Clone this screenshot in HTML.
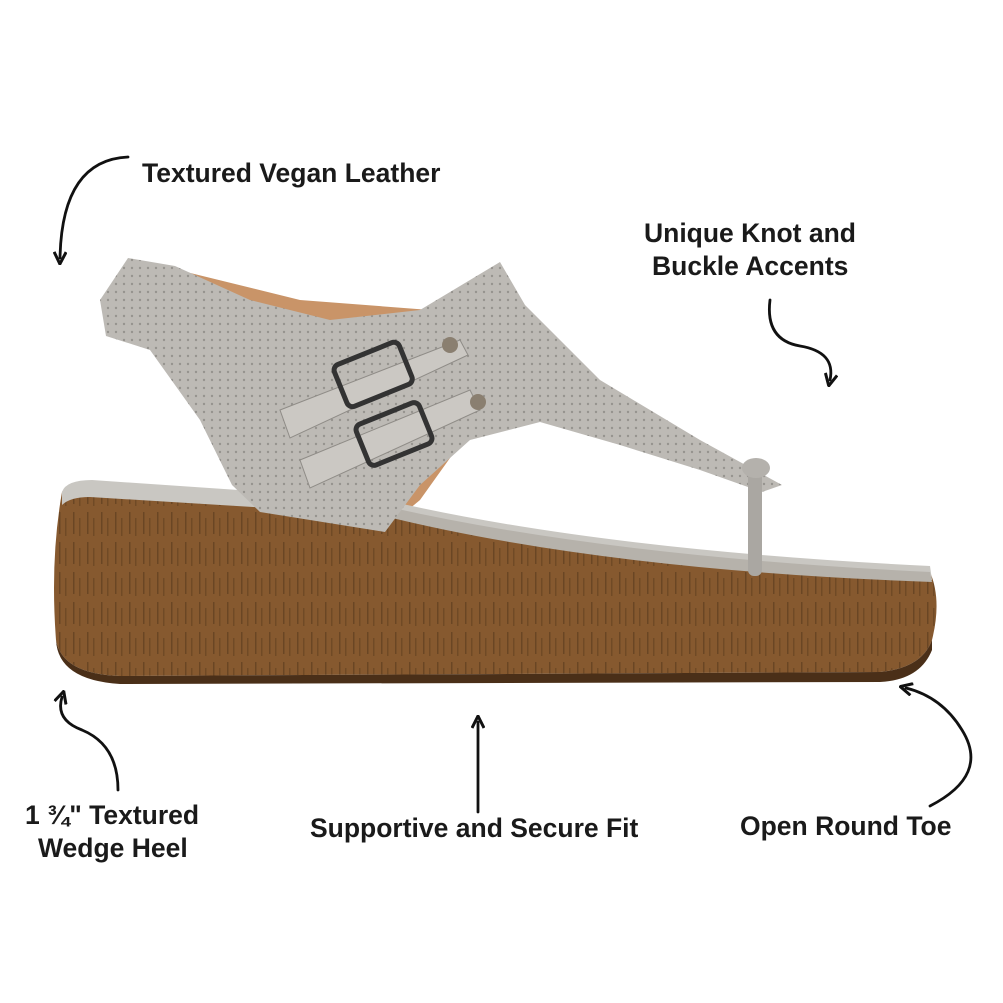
<!DOCTYPE html>
<html><head><meta charset="utf-8"><style>
html,body{margin:0;padding:0;background:#fff;}
body{width:1003px;height:1003px;overflow:hidden;position:relative;font-family:"Liberation Sans",sans-serif;}
.t{position:absolute;font-weight:bold;font-size:26.5px;color:#1a1a1a;white-space:nowrap;line-height:33px;}
svg{position:absolute;left:0;top:0;}
</style></head><body>
<svg width="1003" height="1003" viewBox="0 0 1003 1003">
<defs>
<pattern id="dots" width="8" height="8" patternUnits="userSpaceOnUse"><circle cx="4" cy="4" r="1.2" fill="#6e6c68"/></pattern>
<pattern id="tex" width="14" height="30" patternUnits="userSpaceOnUse"><rect width="14" height="30" fill="#86592f"/><rect x="3" y="2" width="1.5" height="22" fill="#5e3d1f" opacity="0.7"/><rect x="9" y="8" width="1.5" height="18" fill="#603f20" opacity="0.6"/></pattern>
<marker id="ah" markerWidth="14" markerHeight="14" refX="7" refY="7" orient="auto" markerUnits="userSpaceOnUse" viewBox="0 0 14 14"><path d="M1,1 L13,7 L1,13" fill="none" stroke="#111" stroke-width="3"/></marker>
</defs>
<path d="M170,268 L300,300 L430,310 L470,430 L420,500 L390,525 L250,500 L220,400 Z" fill="#c99468"/>
<path d="M62,492 Q66,484 90,484 L380,505 Q600,556 930,572 Q942,600 932,640 Q922,668 880,672 L120,676 Q62,674 56,640 Q50,560 62,492 Z" fill="url(#tex)"/>
<path d="M56,640 Q62,674 120,676 L880,672 Q922,668 932,640 L932,650 Q920,680 880,682 L120,684 Q58,680 56,640Z" fill="#4a2f18"/>
<path d="M62,492 Q66,480 92,480 L385,500 Q600,550 930,566 L932,580 Q600,568 385,515 L90,497 Q70,497 62,505 Z" fill="#c9c7c2"/>
<path d="M380,505 Q600,556 930,572 L932,582 Q600,570 380,515 Z" fill="#b6b2ab"/>
<path d="M100,300 L128,258 L175,266 L250,300 L330,320 L420,310 L500,262 L525,305 L600,380 L700,440 L782,485 L762,492 L700,470 L620,445 L540,422 L470,440 L420,485 L385,532 L260,512 L232,485 L200,420 L150,350 L106,336 Z" fill="#bdbab5"/>
<path d="M100,300 L128,258 L175,266 L250,300 L330,320 L420,310 L500,262 L525,305 L600,380 L700,440 L782,485 L762,492 L700,470 L620,445 L540,422 L470,440 L420,485 L385,532 L260,512 L232,485 L200,420 L150,350 L106,336 Z" fill="url(#dots)" opacity="0.5"/>
<path d="M280,410 L460,340 L468,355 L290,438 Z" fill="#cbc8c3" stroke="#8f8c87"/>
<path d="M300,460 L470,390 L480,410 L310,488 Z" fill="#cbc8c3" stroke="#8f8c87"/>
<rect x="338" y="352" width="70" height="45" rx="6" transform="rotate(-22 373 374)" fill="none" stroke="#333" stroke-width="5"/>
<rect x="360" y="412" width="68" height="44" rx="6" transform="rotate(-22 394 434)" fill="none" stroke="#333" stroke-width="5"/>
<circle cx="450" cy="345" r="8" fill="#8a7f70"/><circle cx="478" cy="402" r="8" fill="#8a7f70"/>
<rect x="748" y="470" width="14" height="106" rx="6" fill="#aaa7a2"/>
<ellipse cx="756" cy="468" rx="14" ry="10" fill="#b4b1ac"/>
<g fill="none" stroke="#111" stroke-width="2.8" stroke-linecap="round">
<path d="M128,157 Q62,160 60,258" marker-end="url(#ah)"/>
<path d="M770,300 Q765,340 800,346 Q836,352 830,380" marker-end="url(#ah)"/>
<path d="M118,790 Q118,745 82,730 Q55,720 62,697" marker-end="url(#ah)"/>
<path d="M478,812 L478,722" marker-end="url(#ah)"/>
<path d="M930,806 Q990,775 962,730 Q942,697 906,688" marker-end="url(#ah)"/>
</g>
</svg>
<div class="t" style="left:142px;top:157px">Textured Vegan Leather</div>
<div class="t" style="left:644px;top:217px">Unique Knot and</div>
<div class="t" style="left:652px;top:250px">Buckle Accents</div>
<div class="t" style="left:25px;top:799px">1 ¾" Textured</div>
<div class="t" style="left:38px;top:832px">Wedge Heel</div>
<div class="t" style="left:310px;top:812px">Supportive and Secure Fit</div>
<div class="t" style="left:740px;top:810px">Open Round Toe</div>
</body></html>
